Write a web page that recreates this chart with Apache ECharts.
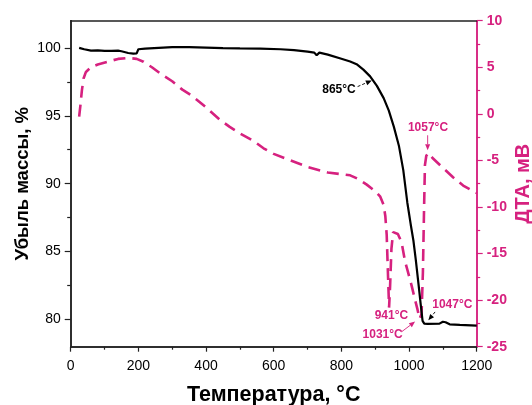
<!DOCTYPE html>
<html><head><meta charset="utf-8">
<script src="https://cdn.jsdelivr.net/npm/echarts@6/dist/echarts.min.js"></script>
<style>html,body{margin:0;padding:0;background:#fff}#c{width:532px;height:405px}</style>
</head><body><div id="c"></div>
<script>
// ---- data ----
const tgT    = [25,40,60,80,100,120,140,150,170,185,195,200,220,260,300,350,400,450,500,560,620,660,700,720,727,735,760,800,826,845,865,885,905,925,940,955,970,983,995,1005,1013,1020,1028,1035,1040,1045,1055,1090,1100,1108,1120,1150,1200];
const tgMass = [100.0,99.9,99.8,99.82,99.78,99.78,99.8,99.75,99.62,99.58,99.6,99.9,99.95,100.0,100.05,100.05,100.02,99.98,99.96,99.95,99.9,99.83,99.72,99.65,99.45,99.65,99.5,99.2,99.0,98.8,98.4,97.9,97.2,96.3,95.4,94.2,92.8,91.0,88.6,87.0,85.8,84.4,82.6,81.0,79.9,79.7,79.68,79.7,79.84,79.8,79.65,79.6,79.55];
const dtaT = [25,29,33,38,45,60,80,110,140,170,195,215,240,270,300,330,360,400,440,470,500,540,570,600,650,700,760,826,850,875,900,915,925,930,934,938,941,944,948,953,957,967,978,988,997,1008,1018,1025,1031,1037,1041,1044,1047,1051,1057,1071,1100,1130,1160,1200];
const dtaV = [-0.3,1.0,2.5,3.8,4.5,5.0,5.3,5.6,5.9,6.0,5.9,5.6,5.0,4.2,3.5,2.6,1.9,0.7,-0.6,-1.4,-2.1,-2.9,-3.7,-4.3,-5.0,-5.7,-6.3,-6.6,-7.0,-7.6,-8.3,-8.9,-9.8,-11.0,-13.0,-17.5,-20.8,-18.5,-14.5,-12.7,-12.5,-12.9,-13.8,-15.8,-17.0,-18.5,-20.0,-21.0,-22.0,-21.5,-17.0,-11.0,-5.5,-4.5,-4.2,-4.8,-5.8,-6.8,-7.7,-8.5];
const tempMinorTicks = [100,300,500,700,900,1100];
const massTicks = [80,85,90,95,100];
const massMinorTicks = [82.5,87.5,92.5,97.5];
const dtaMinorTicks = [7.5,2.5,-2.5,-7.5,-12.5,-17.5,-22.5];
// annotations: [text, textX, textY, arrowFromX, arrowFromY, arrowToX, arrowToY, axis, textColor, arrowColor]
const notes = [
  ['865°C', 793, 96.9, 848, 97.15, 890, 97.6, 'tg', '#000', '#000'],
  ['1057°C', 1056, -1.45, 1055, -2.3, 1055, -3.9, 'dta', 'M', 'M'],
  ['941°C', 948, -21.7, null, null, null, null, 'dta', 'M', 'M'],
  ['1031°C', 922, -23.75, 978, -23.4, 1018, -22.3, 'dta', 'M', 'M'],
  ['1047°C', 1128, 81.1, 1077, 80.56, 1057, 79.95, 'tg', 'M', '#000']
];

const MAG = '#d6217f';
const FONT = 'Liberation Sans, Arial, sans-serif';
const tgData = tgT.map((t,i)=>[t,tgMass[i]]);
const dtaData = dtaT.map((t,i)=>[t,dtaV[i]]);

const chart = echarts.init(document.getElementById('c'), null, {renderer:'canvas'});
const axisLbl = {fontFamily:FONT, fontSize:14, color:'#000'};
const blk = {color:'#222', width:1.5};
chart.setOption({
  animation:false,
  backgroundColor:'#fff',
  grid:{left:70.7, right:55.3, top:20.7, bottom:58.3, containLabel:false, outerBoundsMode:'none'},
  xAxis:[{
    type:'value', min:0, max:1200, interval:200,
    name:'Температура, °С', nameLocation:'middle', nameGap:37, nameMoveOverlap:false,
    nameTextStyle:{fontFamily:FONT, fontSize:21.5, fontWeight:'bold', color:'#000'},
    axisLine:{show:true, onZero:false, lineStyle:blk},
    axisTick:{show:true, inside:false, length:5, lineStyle:{color:'#222', width:1.2}},
    axisLabel:Object.assign({margin:12, formatter:v=>String(v)}, axisLbl),
    splitLine:{show:false}
  },{
    type:'value', min:0, max:1200, position:'top',
    axisLine:{show:true, onZero:false, lineStyle:blk},
    axisTick:{show:false}, axisLabel:{show:false}, splitLine:{show:false}
  },{
    type:'value', min:0, max:1200, position:'bottom',
    axisLine:{show:true, onZero:false, lineStyle:blk},
    axisTick:{show:true, length:3, customValues:tempMinorTicks, lineStyle:{color:'#222', width:1.2}},
    axisLabel:{show:false}, splitLine:{show:false}
  }],
  yAxis:[{
    type:'value', min:78, max:102, position:'left',
    name:'Убыль массы, %', nameLocation:'middle', nameGap:38, nameRotate:90, nameMoveOverlap:false,
    nameTextStyle:{fontFamily:FONT, fontSize:18.5, fontWeight:'bold', color:'#000'},
    axisLine:{show:true, onZero:false, lineStyle:blk},
    axisTick:{show:true, length:6, customValues:massTicks, lineStyle:{color:'#222', width:1.2}},
    axisLabel:Object.assign({margin:10, customValues:massTicks}, axisLbl),
    splitLine:{show:false}
  },{
    type:'value', min:-25, max:10, interval:5, position:'right',
    name:'ДТА, мВ', nameLocation:'middle', nameGap:37, nameRotate:90, nameMoveOverlap:false,
    nameTextStyle:{fontFamily:FONT, fontSize:20, fontWeight:'bold', color:MAG},
    axisLine:{show:true, onZero:false, lineStyle:{color:MAG, width:1.5}},
    axisTick:{show:true, length:6, lineStyle:{color:MAG, width:1.2}},
    axisLabel:Object.assign({}, axisLbl, {margin:10, color:MAG, fontWeight:'bold'}),
    splitLine:{show:false}
  },{
    type:'value', min:78, max:102, position:'left',
    axisLine:{show:true, onZero:false, lineStyle:blk},
    axisTick:{show:true, length:3.5, customValues:massMinorTicks, lineStyle:{color:'#222', width:1.2}},
    axisLabel:{show:false}, splitLine:{show:false}
  },{
    type:'value', min:-25, max:10, position:'right',
    axisLine:{show:true, onZero:false, lineStyle:{color:MAG, width:1.5}},
    axisTick:{show:true, length:3.5, customValues:dtaMinorTicks, lineStyle:{color:MAG, width:1.2}},
    axisLabel:{show:false}, splitLine:{show:false}
  }],
  series:[{
    type:'line', xAxisIndex:0, yAxisIndex:0, data:tgData, showSymbol:false, smooth:false,
    lineStyle:{color:'#000', width:2.2}, z:3
  },{
    type:'line', xAxisIndex:0, yAxisIndex:1, data:dtaData, showSymbol:false, smooth:false,
    lineStyle:{color:MAG, width:2.6, type:[12,7]}, z:2
  }]
});

function px(axis, p){
  return chart.convertToPixel({xAxisIndex:0, yAxisIndex: axis==='tg'?0:1}, p);
}
const gr = [];
notes.forEach(n=>{
  const [txt,tx,ty,ax,ay,bx,by,axis,tc,ac] = n;
  const tcol = tc==='M'?MAG:tc, acol = ac==='M'?MAG:ac;
  const tp = px(axis,[tx,ty]);
  gr.push({type:'text', x:tp[0], y:tp[1], z:10,
    style:{text:txt, fill:tcol, font:'bold 12px '+FONT, align:'center', verticalAlign:'middle'}});
  if(ax!==null){
    const a = px(axis,[ax,ay]), b = px(axis,[bx,by]);
    const ang = Math.atan2(b[1]-a[1], b[0]-a[0]);
    const L=6, W=2.5;
    const bx1 = b[0]-L*Math.cos(ang), by1 = b[1]-L*Math.sin(ang);
    gr.push({type:'line', z:10, shape:{x1:a[0],y1:a[1],x2:bx1,y2:by1},
      style:{stroke:acol, lineWidth:0.9, lineDash: acol==='#000'?[3,2]:null}});
    gr.push({type:'polygon', z:10, shape:{points:[[b[0],b[1]],
      [bx1+W*Math.sin(ang), by1-W*Math.cos(ang)],[bx1-W*Math.sin(ang), by1+W*Math.cos(ang)]]},
      style:{fill:acol}});
  }
});
chart.setOption({graphic:gr});
</script>
</body></html>
